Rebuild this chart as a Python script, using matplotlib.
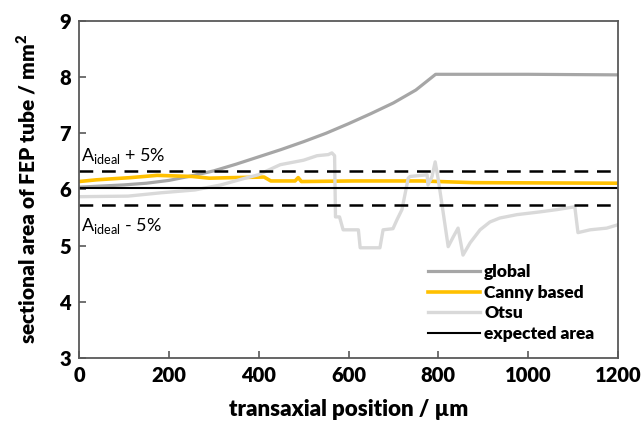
import matplotlib
matplotlib.use("Agg")
import matplotlib.pyplot as plt

plt.rcParams['font.family'] = ['Lato', 'DejaVu Sans']
plt.rcParams['mathtext.fontset'] = 'custom'
plt.rcParams['mathtext.rm'] = 'Lato'

# --- data ---
global_x = [0, 50, 100, 150, 200, 250, 300, 350, 400, 450, 500, 550, 600, 650, 700, 750, 794, 1000, 1200]
global_y = [6.04, 6.06, 6.08, 6.11, 6.16, 6.24, 6.33, 6.45, 6.58, 6.71, 6.85, 7.00, 7.17, 7.35, 7.54, 7.77, 8.05, 8.05, 8.04]

canny_x = [0, 38, 115, 174, 252, 290, 344, 412, 427, 481, 488, 495, 611, 763, 878, 1200]
canny_y = [6.14, 6.17, 6.21, 6.25, 6.23, 6.20, 6.21, 6.22, 6.15, 6.15, 6.21, 6.14, 6.15, 6.15, 6.12, 6.11]

otsu_x = [0, 109, 183, 258, 316, 370, 399, 448, 500, 530, 555, 563, 569, 571, 580, 588,
          622, 626, 670, 677, 699, 708, 719, 733, 737, 775, 777, 786, 793, 800, 811, 822,
          833, 844, 855, 871, 893, 915, 937, 975, 1027, 1064, 1104, 1111, 1138, 1175, 1200]
otsu_y = [5.87, 5.88, 5.94, 5.99, 6.08, 6.20, 6.26, 6.44, 6.52, 6.60, 6.62, 6.65, 6.60, 5.51, 5.51, 5.28,
          5.28, 4.96, 4.96, 5.28, 5.30, 5.46, 5.64, 6.20, 6.23, 6.26, 6.08, 6.23, 6.49, 6.17, 5.58, 4.98,
          5.15, 5.31, 4.83, 5.05, 5.28, 5.42, 5.49, 5.55, 5.60, 5.64, 5.69, 5.23, 5.28, 5.31, 5.37]

expected_area = 6.03
upper_limit = 6.33
lower_limit = 5.73

x_ticks = [0, 200, 400, 600, 800, 1000, 1200]
y_ticks = [3, 4, 5, 6, 7, 8, 9]

fig = plt.figure(figsize=(6.43, 4.28), dpi=100)
ax = fig.add_axes([0.123, 0.164, 0.838, 0.787])

ax.plot(global_x, global_y, color='#a6a6a6', lw=2.3, label='global')
ax.plot(canny_x, canny_y, color='#ffc000', lw=2.6, label='Canny based')
ax.plot(otsu_x, otsu_y, color='#d9d9d9', lw=2.4, label='Otsu')
ax.axhline(expected_area, color='black', lw=1.5, label='expected area')
ax.axhline(upper_limit, color='black', lw=1.8, dashes=(5.5, 3.5))
ax.axhline(lower_limit, color='black', lw=1.8, dashes=(5.5, 3.5))

ax.text(5, 6.5, r'A$_{\mathregular{ideal}}$ + 5%', fontsize=13, va='baseline', ha='left')
ax.text(5, 5.26, r'A$_{\mathregular{ideal}}$ - 5%', fontsize=13, va='baseline', ha='left')

ax.set_xlim(0, 1200)
ax.set_ylim(3, 9)
ax.set_xticks(x_ticks)
ax.set_yticks(y_ticks)
ax.tick_params(direction='in', length=5, width=1.2, color='#595959', labelsize=14.5, pad=6)
for lab in ax.get_xticklabels() + ax.get_yticklabels():
    lab.set_fontweight('heavy')
for s in ax.spines.values():
    s.set_color('#595959')
    s.set_linewidth(1.3)

ax.set_xlabel('transaxial position / µm', fontsize=16, fontweight='heavy', labelpad=10)
ax.set_ylabel('sectional area of FEP tube / mm$^\\mathregular{2}$', fontsize=15, fontweight='heavy', labelpad=15)

leg = ax.legend(loc='lower right', frameon=False, fontsize=12.5, handlelength=3.0,
                handletextpad=0.25, labelspacing=0.27, bbox_to_anchor=(0.985, 0.0))
for t in leg.get_texts():
    t.set_fontweight('heavy')

fig.savefig('out.png', dpi=100)
